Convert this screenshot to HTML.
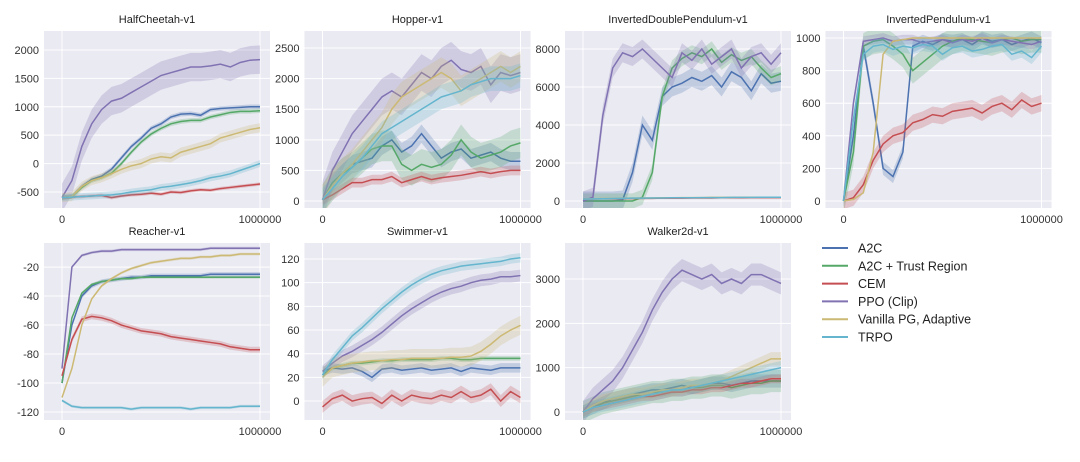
<!DOCTYPE html>
<html><head><meta charset="utf-8"><style>
body{margin:0;background:#fff;width:1080px;height:457px;overflow:hidden}
svg{font-family:"Liberation Sans",sans-serif}
</style></head><body>
<svg id="c" width="1080" height="457"></svg>
<script>
const xSteps=[0,50000,100000,150000,200000,250000,300000,350000,400000,450000,500000,550000,600000,650000,700000,750000,800000,850000,900000,950000,1000000];
const seriesNames=["A2C","A2C + Trust Region","CEM","PPO (Clip)","Vanilla PG, Adaptive","TRPO"];
const colors=["#4c72b0","#55a868","#c44e52","#8172b2","#ccb974","#64b5cd"];
const envTitles=["HalfCheetah-v1","Hopper-v1","InvertedDoublePendulum-v1","InvertedPendulum-v1","Reacher-v1","Swimmer-v1","Walker2d-v1"];
const yTicks=[[-500,0,500,1000,1500,2000],[0,500,1000,1500,2000,2500],[0,2000,4000,6000,8000],[0,200,400,600,800,1000],[-120,-100,-80,-60,-40,-20],[0,20,40,60,80,100,120],[0,1000,2000,3000]];
const yDomains=[[-782,2334],[-114,2778],[-368,8947],[-43,1043],[-125.5,-3.4],[-16,133.5],[-180,3812]];
const spreads=[[40,40,30,250,80,60],[150,250,80,300,250,200],[500,400,30,500,30,30],[40,80,50,30,5,40],[1.5,1,2,1,1,1],[4,2,5,5,8,4],[150,250,100,250,150,150]];
const hc=[[-600,-580,-400,-280,-220,-100,100,300,450,620,700,820,870,880,850,950,970,980,990,1000,1000],
[-600,-580,-420,-300,-250,-170,0,200,380,520,620,700,740,760,760,820,860,900,920,920,930],
[-600,-590,-580,-570,-560,-600,-570,-550,-540,-520,-540,-500,-510,-480,-460,-470,-440,-420,-400,-380,-360],
[-600,-300,300,700,950,1100,1150,1250,1350,1450,1550,1600,1650,1700,1700,1720,1750,1700,1780,1820,1830],
[-600,-580,-400,-300,-250,-180,-100,-40,0,80,120,100,200,250,300,350,450,500,550,600,630],
[-600,-590,-580,-570,-560,-550,-530,-500,-480,-460,-420,-400,-370,-340,-300,-250,-220,-180,-120,-60,0]];
const hop=[[20,300,450,600,650,700,900,1000,800,900,1100,900,700,800,850,700,750,800,700,650,650],
[20,300,450,550,700,850,900,900,600,500,600,550,600,750,1000,800,700,750,800,900,950],
[20,100,200,300,300,350,350,400,300,350,400,350,380,400,420,450,480,450,480,500,500],
[20,500,800,1100,1300,1500,1700,1800,1700,1900,2100,2000,2200,2300,2150,2100,2200,1900,2100,2050,2100],
[20,250,450,600,800,1000,1200,1500,1700,1800,1900,2000,2100,2000,1800,1900,2000,2100,2200,2100,2200],
[20,200,400,550,700,900,1100,1200,1300,1400,1500,1600,1700,1750,1800,1900,1950,2000,2000,2000,2050]];
const idp=[[0,0,0,0,50,1500,4000,3200,5500,6000,6200,6500,6300,6600,6000,6800,6500,5800,6700,6200,6300],
[0,0,0,0,0,0,200,1500,5500,7000,7500,7800,7600,8000,7300,7700,7400,7600,7000,6500,6700],
[100,110,120,120,130,130,140,140,150,150,150,160,160,160,170,170,170,180,180,180,180],
[0,200,4500,7000,7800,7600,8000,7500,7000,6500,7800,7400,8000,7200,7600,8000,7000,7600,7800,7200,7800],
[100,120,130,140,150,150,160,160,170,170,180,180,180,190,190,190,200,200,200,200,200],
[100,110,120,130,140,150,150,160,160,170,170,170,180,180,180,190,190,190,200,200,200]];
const ip=[[0,400,950,600,200,150,300,950,980,960,990,980,990,960,1000,980,990,960,980,1000,970],
[0,300,950,980,990,950,900,800,850,900,950,980,1000,990,980,970,990,1000,980,990,990],
[0,20,100,250,350,400,420,480,500,530,520,550,560,570,540,580,600,560,620,580,600],
[0,600,980,990,1000,980,990,990,970,980,990,970,990,980,1000,970,990,980,970,960,980],
[0,10,50,300,900,980,990,1000,1000,1000,1000,1000,1000,1000,1000,1000,1000,1000,1000,1000,1000],
[0,500,900,950,960,930,950,940,960,950,900,940,950,920,930,950,960,900,920,880,950]];
const rea=[[-100,-60,-40,-33,-30,-29,-28,-27,-27,-26,-26,-26,-26,-26,-26,-25,-25,-25,-25,-25,-25],
[-100,-55,-38,-32,-30,-29,-28,-28,-27,-27,-27,-27,-27,-27,-27,-27,-27,-27,-27,-27,-27],
[-95,-70,-56,-54,-55,-57,-60,-62,-64,-65,-66,-68,-69,-70,-71,-72,-73,-75,-76,-77,-77],
[-90,-20,-12,-10,-9,-9,-8,-8,-8,-8,-8,-8,-8,-8,-8,-7,-7,-7,-7,-7,-7],
[-110,-90,-60,-42,-33,-28,-24,-21,-19,-17,-16,-15,-14,-14,-13,-13,-12,-12,-11,-11,-11],
[-112,-116,-117,-117,-117,-117,-117,-118,-117,-117,-117,-117,-117,-118,-117,-117,-117,-117,-116,-116,-116]];
const swi=[[25,28,27,28,25,20,27,28,26,27,28,26,27,28,25,28,27,26,28,28,28],
[22,28,30,32,32,33,34,34,35,35,35,35,36,36,35,35,36,36,36,36,36],
[-5,2,5,0,2,3,-2,5,0,5,3,2,5,3,8,3,5,10,0,8,3],
[25,32,38,42,47,52,58,65,72,78,83,88,92,95,97,100,102,103,105,105,106],
[20,28,30,32,33,34,34,35,35,36,36,36,36,37,37,38,42,48,55,60,64],
[22,35,45,55,62,70,78,85,92,98,103,107,110,112,114,115,116,117,118,120,121]];
const wal=[[0,100,200,300,350,400,450,500,500,550,600,550,600,650,650,600,650,700,700,700,700],
[0,100,200,250,300,350,400,450,450,500,500,550,550,600,600,550,600,650,650,700,700],
[0,100,150,200,250,300,350,350,400,450,450,500,500,550,550,600,650,650,700,750,750],
[0,300,500,700,1000,1400,1800,2300,2700,3000,3200,3100,3000,3100,2900,3000,2900,3100,3100,3000,2900],
[0,150,250,300,350,400,400,450,500,500,550,600,600,650,700,800,900,1000,1100,1200,1200],
[0,100,150,200,250,300,350,400,450,500,500,550,600,650,700,750,800,850,900,950,1000]];
const allData=[hc,hop,idp,ip,rea,swi,wal];

const NS="http://www.w3.org/2000/svg";
const svg=document.getElementById('c');
function mk(t,a,p){const e=document.createElementNS(NS,t);for(const k in a)e.setAttribute(k,a[k]);(p||svg).appendChild(e);return e;}
const colX=[44,304.5,565,825.5];
const W=226;
for(let p=0;p<7;p++){
  const r=p<4?0:1, c=p<4?p:p-4;
  const x0=colX[c], y0=r?243:31, H=r?177:177;
  const g=mk('g',{});
  
  
  const [dmin,dmax]=yDomains[p];
  const sx=v=>x0+18+v/1e6*198;
  const sy=v=>y0+H-(v-dmin)/(dmax-dmin)*H;
  const bg=mk('rect',{x:x0,y:y0,width:W,height:H,fill:'#eaeaf2'},g);
  
  
  yTicks[p].forEach(t=>{
    const yy=sy(t);
    mk('line',{x1:x0,x2:x0+W,y1:yy,y2:yy,stroke:'#fff','stroke-width':1},g);
    const tx=mk('text',{x:x0-5,y:yy+4,'text-anchor':'end','font-size':11,fill:'#333'},g);
    tx.textContent=t;
    
    
  });
  [0,1000000].forEach(t=>{
    const xx=sx(t);
    mk('line',{x1:xx,x2:xx,y1:y0,y2:y0+H,stroke:'#fff','stroke-width':1},g);
    const tx=mk('text',{x:xx,y:y0+H+15,'text-anchor':'middle','font-size':11,fill:'#333'},g);
    tx.textContent=t;
    
    
  });
  const ti=mk('text',{x:x0+W/2,y:y0-8,'text-anchor':'middle','font-size':11,fill:'#222'},g);
  ti.textContent=envTitles[p];
  
  
  const cl='clip'+p;
  const cp=mk('clipPath',{id:cl},g);mk('rect',{x:x0,y:y0,width:W,height:H},cp);
  allData[p].forEach((vals,s)=>{
    const sp=spreads[p][s];
    const up=vals.map((v,i)=>sx(xSteps[i])+','+sy(v+sp)).join(' ');
    const dn=vals.map((v,i)=>sx(xSteps[i])+','+sy(v-sp)).reverse().join(' ');
    const band=mk('polygon',{points:up+' '+dn,fill:colors[s],'fill-opacity':0.25,'clip-path':'url(#'+cl+')'},g);
    
    
    const ln=mk('polyline',{points:vals.map((v,i)=>sx(xSteps[i])+','+sy(v)).join(' '),fill:'none',stroke:colors[s],'stroke-width':1.5,'clip-path':'url(#'+cl+')'},g);
    
    
  });
}
const lg=mk('g',{});


seriesNames.forEach((n,i)=>{
  const y=248+i*17.8;
  const e=mk('g',{},lg);
  
  
  mk('line',{x1:822,x2:848,y1:y,y2:y,stroke:colors[i],'stroke-width':2},e);
  const t=mk('text',{x:858,y:y+4.5,'font-size':12.5,fill:'#222'},e);
  t.textContent=n;
});
</script>
</body></html>
